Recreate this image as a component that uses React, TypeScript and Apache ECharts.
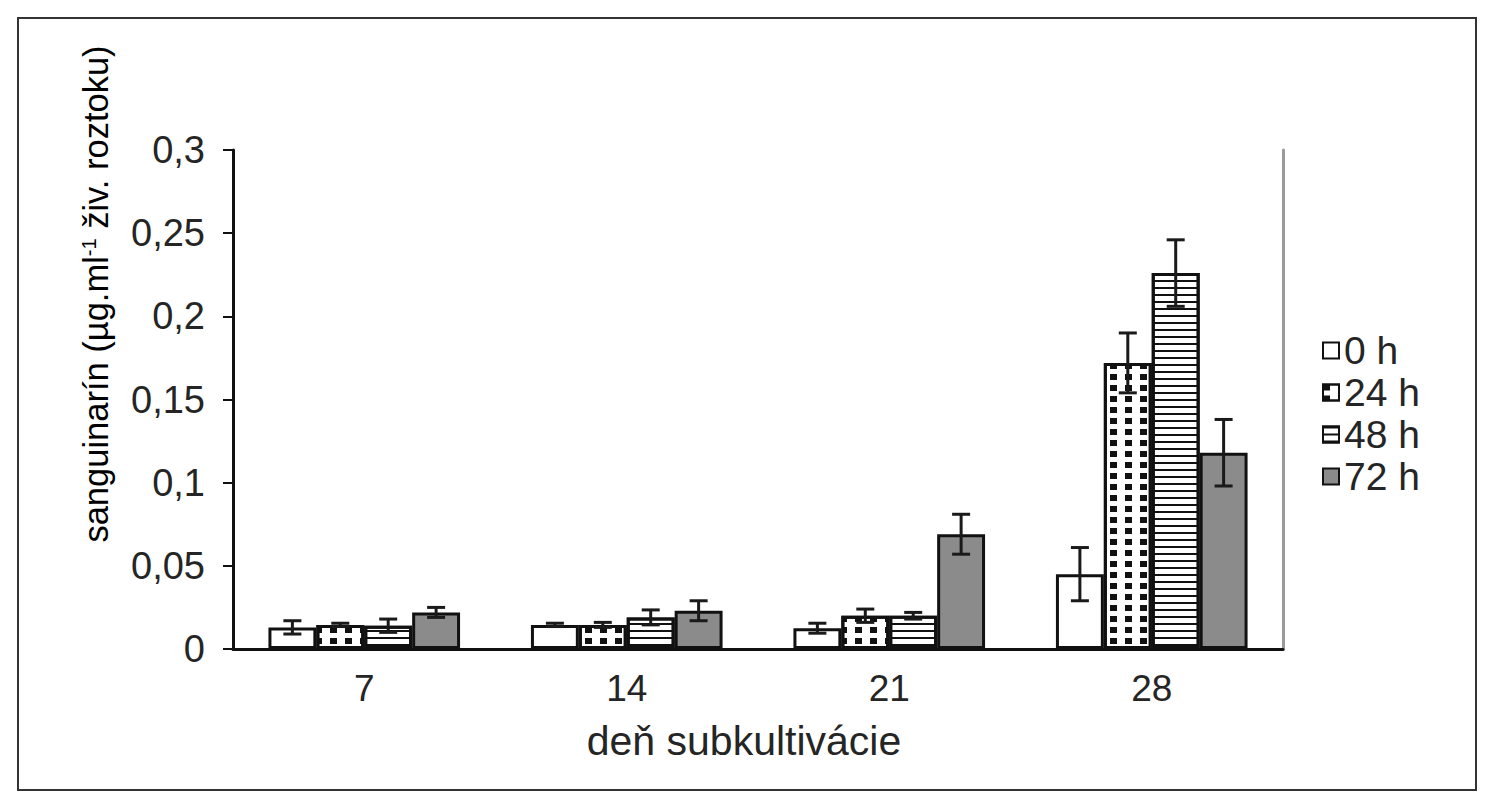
import React, { useEffect, useRef } from "react";
import * as echarts from "echarts";

const categories = ["7", "14", "21", "28"];
const seriesNames = ["0 h", "24 h", "48 h", "72 h"];
const values0h = [0.013, 0.0145, 0.0125, 0.045];
const err0h = [0.004, 0.001, 0.003, 0.016];
const values24h = [0.0145, 0.0145, 0.02, 0.172];
const err24h = [0.001, 0.0015, 0.004, 0.018];
const values48h = [0.014, 0.019, 0.02, 0.226];
const err48h = [0.004, 0.0045, 0.002, 0.02];
const values72h = [0.022, 0.023, 0.069, 0.118];
const err72h = [0.003, 0.006, 0.012, 0.02];
const yTicks = [0, 0.05, 0.1, 0.15, 0.2, 0.25, 0.3];

const allValues = [values0h, values24h, values48h, values72h];
const allErrs = [err0h, err24h, err48h, err72h];

const FONT = "Liberation Sans, Arial, sans-serif";
const TEXT = "#252525";
const GAP_FRAC = 0.73;

export default function App() {
  const ref = useRef<HTMLDivElement>(null);
  useEffect(() => {
    document.body.style.margin = "0";
    const chart = echarts.init(ref.current!, null, { renderer: "svg" });
    const styles = [
      { color: "#ffffff" },
      {
        color: "#ffffff",
        decal: {
          symbol: "rect",
          symbolSize: 1,
          color: "#111",
          dashArrayX: [7, 8],
          dashArrayY: [6, 5],
          rotation: 0,
        },
      },
      {
        color: "#ffffff",
        decal: {
          symbol: "rect",
          symbolSize: 1,
          color: "#111",
          dashArrayX: [1, 0],
          dashArrayY: [2, 5],
          rotation: 0,
        },
      },
      { color: "#8b8b8b" },
    ];
    const barSeries = seriesNames.map((name, i) => ({
      name,
      type: "bar",
      data: allValues[i],
      barGap: "0%",
      barCategoryGap: `${Math.round((1 - GAP_FRAC) * 100)}%`,
      itemStyle: { ...styles[i], borderColor: "#111", borderWidth: 3 },
      emphasis: { disabled: true },
      z: 2,
    }));
    const errSeries = seriesNames.map((name, i) => ({
      name: "err" + i,
      type: "custom",
      z: 5,
      encode: { x: 0, y: 1 },
      data: categories.map((_, c) => [c, allValues[i][c], allErrs[i][c]]),
      renderItem: (params: any, api: any) => {
        const ci = api.value(0);
        const v = api.value(1);
        const e = api.value(2);
        const band = api.size([1, 0])[0];
        const bw = (band * GAP_FRAC) / 4;
        const cx = api.coord([ci, 0])[0] - (band * GAP_FRAC) / 2 + bw * (i + 0.5);
        const yt = api.coord([ci, v + e])[1];
        const yb = api.coord([ci, v - e])[1];
        const cap = 9;
        const st = { stroke: "#1a1a1a", lineWidth: 3 };
        return {
          type: "group",
          children: [
            { type: "line", shape: { x1: cx, y1: yt, x2: cx, y2: yb }, style: st },
            { type: "line", shape: { x1: cx - cap, y1: yt, x2: cx + cap, y2: yt }, style: st },
            { type: "line", shape: { x1: cx - cap, y1: yb, x2: cx + cap, y2: yb }, style: st },
          ],
        };
      },
    }));
    chart.setOption({
      animation: false,
      aria: { enabled: false },
      grid: { left: 233, right: 203, top: 150, bottom: 151 },
      legend: {
        data: seriesNames,
        orient: "vertical",
        left: 1317,
        top: 326,
        itemWidth: 16,
        itemHeight: 16,
        itemGap: 3,
        icon: "rect",
        textStyle: { fontFamily: FONT, fontSize: 39, color: TEXT },
        selectedMode: false,
      },
      xAxis: {
        type: "category",
        data: categories,
        name: "deň subkultivácie",
        nameLocation: "middle",
        nameGap: 71,
        nameTextStyle: { fontFamily: FONT, fontSize: 41, color: TEXT, padding: [0, 28, 0, 0] },
        axisLine: { lineStyle: { color: "#111", width: 3 } },
        axisTick: { length: 9, lineStyle: { color: "#111", width: 2 } },
        axisLabel: { fontFamily: FONT, fontSize: 37, color: TEXT, margin: 21 },
      },
      yAxis: [
        {
          type: "value",
          min: yTicks[0],
          max: yTicks[yTicks.length - 1],
          interval: 0.05,
          splitLine: { show: false },
          axisLine: { show: true, lineStyle: { color: "#111", width: 3 } },
          axisTick: { show: true, length: 10, lineStyle: { color: "#111", width: 2 } },
          axisLabel: {
            fontFamily: FONT,
            fontSize: 38,
            color: TEXT,
            margin: 28,
            formatter: (v: number) => String(Math.round(v * 100) / 100).replace(".", ","),
          },
        },
        {
          type: "value",
          position: "right",
          min: yTicks[0],
          max: yTicks[yTicks.length - 1],
          interval: 0.05,
          splitLine: { show: false },
          axisLine: { show: true, lineStyle: { color: "#9a9a9a", width: 3 } },
          axisTick: { show: false },
          axisLabel: { show: false },
        },
      ],
      graphic: [
        {
          type: "rect",
          shape: { x: 18, y: 18, width: 1458, height: 772 },
          style: { fill: "none", stroke: "#333", lineWidth: 2 },
          silent: true,
        },
        {
          type: "text",
          x: 96,
          y: 294,
          rotation: Math.PI / 2,
          style: {
            text: "{a|sanguinarín (µg.ml}{s|-1}{a| živ. roztoku)}",
            align: "center",
            verticalAlign: "middle",
            rich: {
              a: { fontFamily: FONT, fontSize: 34.5, color: TEXT },
              s: { fontFamily: FONT, fontSize: 20, color: TEXT, verticalAlign: "top", padding: [0, 0, 14, 0] },
            },
          },
          silent: true,
        },
      ],
      series: [...barSeries, ...errSeries],
    });
    return () => chart.dispose();
  }, []);
  return <div ref={ref} style={{ width: 1486, height: 800 }} />;
}
